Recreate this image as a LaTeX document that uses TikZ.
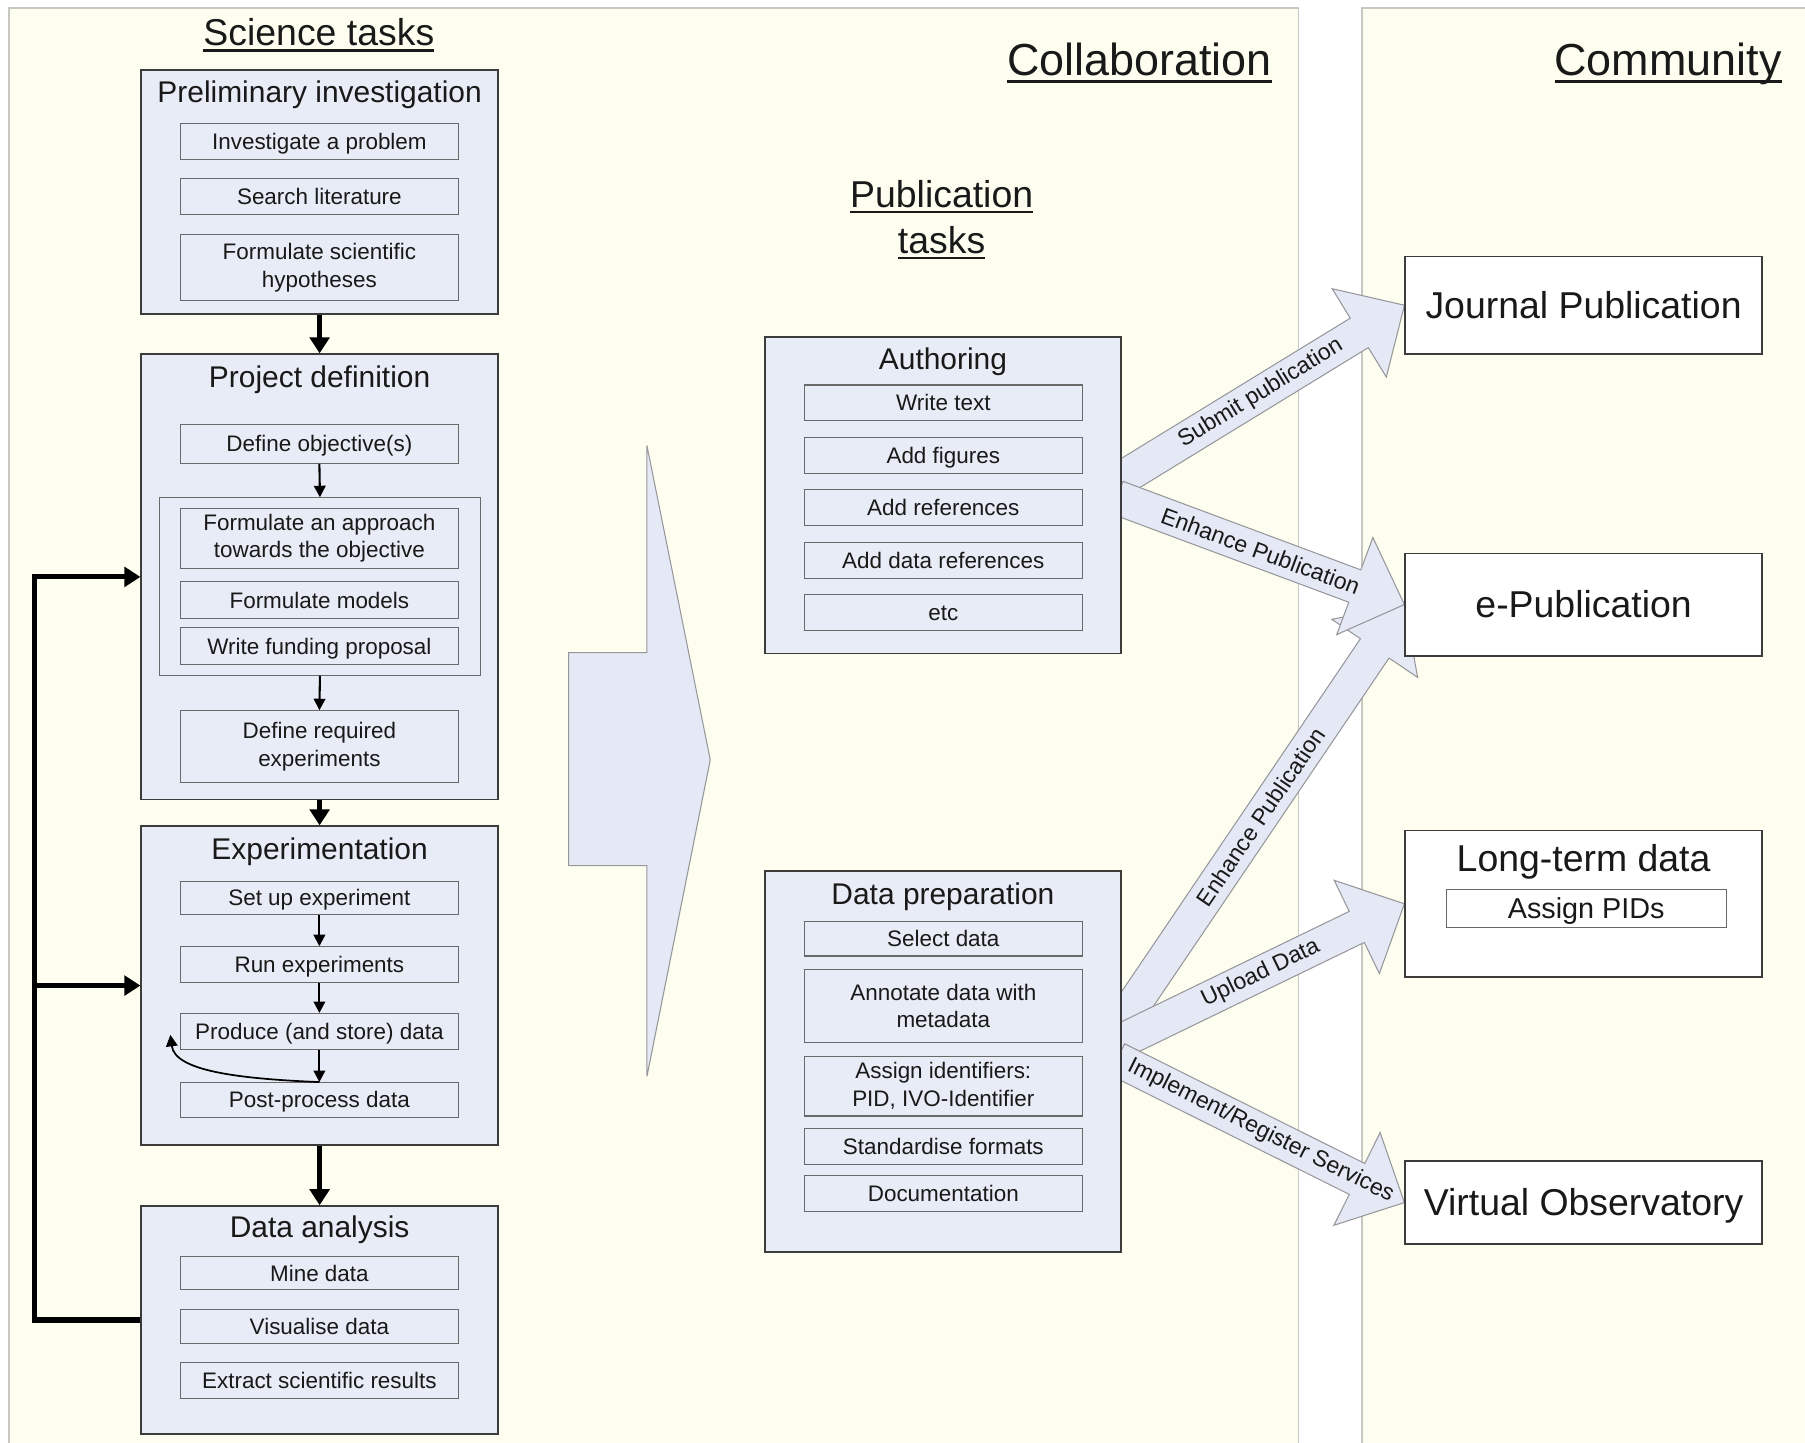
\documentclass[tikz,border=0pt]{standalone}
\usepackage{fontspec}
\setmainfont{Liberation Sans}
\usetikzlibrary{calc,arrows.meta}
\definecolor{panel}{RGB}{254,254,240}
\definecolor{paneledge}{RGB}{200,200,195}
\definecolor{boxfill}{RGB}{232,236,246}
\definecolor{boxedge}{RGB}{60,60,60}
\definecolor{inedge}{RGB}{105,105,105}
\definecolor{arrfill}{RGB}{228,233,245}
\definecolor{arredge}{RGB}{150,150,155}
\definecolor{txt}{RGB}{25,25,25}
\pgfdeclarelayer{back}\pgfdeclarelayer{arrows}\pgfsetlayers{back,arrows,main}
\newcommand\fs[2]{\fontsize{#1}{#2}\selectfont}
\newsavebox\ulbox
\newcommand\myul[1]{\sbox\ulbox{#1}\rlap{\rule[-0.16em]{\wd\ulbox}{0.065em}}\usebox\ulbox}
\newcommand\fatarrow[3]{%
 \begin{pgfonlayer}{arrows}
 \coordinate (fH) at ($(#2)!46pt!(#1)$);
 \draw[fat] ($(#1)!15pt!90:(#2)$) -- ($(fH)!15pt!90:(#2)$) -- ($(fH)!45pt!90:(#2)$) -- (#2)
   -- ($(fH)!45pt!-90:(#2)$) -- ($(fH)!15pt!-90:(#2)$) -- ($(#1)!15pt!-90:(#2)$) -- cycle;
 \path (#1) -- (#2) node[midway, sloped, lab] {#3};
 \end{pgfonlayer}}
\begin{document}
\begin{tikzpicture}[x=1pt,y=-1pt,
 outerbox/.style={draw=boxedge, fill=boxfill, line width=1.3pt, inner sep=0pt, anchor=north west},
 ib/.style={draw=inedge, fill=boxfill, line width=0.9pt, inner sep=0pt, anchor=north west, minimum width=242pt, font=\fs{19.5}{24}, text=txt, align=center},
 ib1/.style={ib, text height=14pt, text depth=0pt},
 btitle/.style={font=\fs{26}{30}, text=txt, inner sep=0pt, text height=18.6pt, text depth=0pt},
 comm/.style={draw=boxedge, fill=white, line width=1.3pt, inner sep=0pt, anchor=north west, minimum width=310pt, font=\fs{32.5}{38}, text=txt, text height=23.3pt, text depth=0pt},
 bigtitle/.style={text=txt, inner sep=0pt, text depth=0pt},
 tarr/.style={line width=4.5pt, draw=black, -{Triangle[length=14pt,width=17pt]}},
 narr/.style={line width=1.8pt, draw=black, -{Triangle[length=10pt,width=10pt]}},
 chev/.style={draw=arredge, fill=arrfill, line width=0.9pt, line join=miter},
 fat/.style={draw=arredge, fill=arrfill, line width=0.9pt, line join=miter},
 lab/.style={font=\fs{20}{22}, text=txt, inner sep=0pt},
 panelsty/.style={draw=paneledge, fill=panel, line width=1.5pt}]
\useasboundingbox (0,0) rectangle (1568,1253);
\clip (0,0) rectangle (1568,1253);
\begin{pgfonlayer}{back}
\fill[white] (0,0) rectangle (1568,1253);
\draw[panelsty] (8,7) rectangle (1128,1265);
\draw[panelsty] (1183,7) rectangle (1580,1265);
\end{pgfonlayer}

% titles
\node[bigtitle, font=\fs{32.5}{40}, text height=23.3pt] (tSci) at (277,28) {\myul{Science tasks}};
\node[bigtitle, font=\fs{39}{44}, text height=27.9pt] (tColl) at (990,52) {\myul{Collaboration}};
\node[bigtitle, font=\fs{39}{44}, text height=27.9pt] (tComm) at (1449,52) {\myul{Community}};
\node[align=center, font=\fs{32.5}{40}, text=txt, inner sep=0pt] (tPub) at (818,191) {\myul{Publication}\\\myul{tasks}};

% science column
\node[outerbox, minimum width=310pt, minimum height=212pt] (prelim) at (122,60) {};
\node[btitle] (prelimT) at ($(prelim.north)+(0,20)$) {Preliminary investigation};
\node[ib1, minimum height=31pt] (inv) at (156,107) {Investigate a problem};
\node[ib1, minimum height=31pt] (lit) at (156,155) {Search literature};
\node[ib, minimum height=58pt] (hyp) at (156,203) {Formulate scientific\\hypotheses};

\node[outerbox, minimum width=310pt, minimum height=387pt] (projdef) at (122,307) {};
\node[btitle] (projdefT) at ($(projdef.north)+(0,20)$) {Project definition};
\node[ib1, minimum height=34pt] (obj) at (156,368) {Define objective(s)};
\node[draw=inedge, fill=boxfill, line width=0.9pt, inner sep=0pt, anchor=north west, minimum width=279pt, minimum height=154pt] (grp) at (138,432) {};
\node[ib, minimum height=52pt] (appr) at (156,441) {Formulate an approach\\towards the objective};
\node[ib1, minimum height=32pt] (models) at (156,505) {Formulate models};
\node[ib1, minimum height=32pt] (fund) at (156,545) {Write funding proposal};
\node[ib, minimum height=62pt] (reqexp) at (156,617) {Define required\\experiments};

\node[outerbox, minimum width=310pt, minimum height=277pt] (exp) at (122,717) {};
\node[btitle] (expT) at ($(exp.north)+(0,20)$) {Experimentation};
\node[ib1, minimum height=29pt] (setup) at (156,765) {Set up experiment};
\node[ib1, minimum height=31pt] (run) at (156,822) {Run experiments};
\node[ib1, minimum height=31pt] (prod) at (156,880) {Produce (and store) data};
\node[ib1, minimum height=30pt] (post) at (156,940) {Post-process data};

\node[outerbox, minimum width=310pt, minimum height=198pt] (dana) at (122,1047) {};
\node[btitle] (danaT) at ($(dana.north)+(0,19)$) {Data analysis};
\node[ib1, minimum height=29pt] (mine) at (156,1091) {Mine data};
\node[ib1, minimum height=30pt] (vis) at (156,1137) {Visualise data};
\node[ib1, minimum height=31pt] (extract) at (156,1183) {Extract scientific results};

% science arrows
\draw[tarr] (prelim.south) -- (projdef.north);
\draw[tarr] (projdef.south) -- (exp.north);
\draw[tarr] (exp.south) -- (dana.north);
\draw[narr] (obj.south) -- (grp.north);
\draw[narr] (grp.south) -- (reqexp.north);
\draw[narr] (setup.south) -- (run.north);
\draw[narr] (run.south) -- (prod.north);
\draw[narr] (prod.south) -- (post.north);
\coordinate (pback) at ($(prod.west)+(-8,3)$);
\draw[narr, line width=1.5pt] (post.north) .. controls (205,937) and (152,930) .. (pback);
\coordinate (lc) at (30,0);
\draw[tarr] (dana.west) -| (lc |- projdef.west) -- (projdef.west);
\draw[tarr] (lc |- exp.west) -- (exp.west);

% big chevron
\draw[chev] (494,567) -- (562,567) -- (562,387) -- (617,660) -- (562,935) -- (562,752) -- (494,752) -- cycle;

% publication column
\node[outerbox, minimum width=309pt, minimum height=275pt] (auth) at (664,292) {};
\node[btitle] (authT) at ($(auth.north)+(0,20)$) {Authoring};
\node[ib1, minimum height=31pt] (wt) at (698,334) {Write text};
\node[ib1, minimum height=31pt] (fig) at (698,380) {Add figures};
\node[ib1, minimum height=31pt] (refs) at (698,425) {Add references};
\node[ib1, minimum height=31pt] (dref) at (698,471) {Add data references};
\node[ib1, minimum height=31pt] (etc) at (698,516) {etc};

\node[outerbox, minimum width=309pt, minimum height=331pt] (dprep) at (664,756) {};
\node[btitle] (dprepT) at ($(dprep.north)+(0,20)$) {Data preparation};
\node[ib1, minimum height=30pt] (sel) at (698,800) {Select data};
\node[ib, minimum height=63pt] (ann) at (698,842) {Annotate data with\\metadata};
\node[ib, minimum height=52pt] (ids) at (698,917) {Assign identifiers:\\PID, IVO-Identifier};
\node[ib1, minimum height=31pt] (std) at (698,980) {Standardise formats};
\node[ib1, minimum height=31pt] (doc) at (698,1021) {Documentation};

% community
\node[comm, minimum height=85pt] (jp) at (1220,222) {Journal Publication};
\node[comm, minimum height=89pt] (ep) at (1220,480) {e-Publication};
\node[comm, minimum height=127pt] (lt) at (1220,721) {};
\node[btitle, font=\fs{32.5}{38}, text height=23.3pt] (ltT) at ($(lt.north)+(0,24)$) {Long-term data};
\node[draw=inedge, fill=white, line width=0.9pt, inner sep=0pt, anchor=north west, minimum width=243pt, minimum height=33pt, font=\fs{25}{28}, text=txt, text height=17.9pt, text depth=0pt] (pids) at (1256,772) {Assign PIDs};
\node[comm, minimum height=72pt] (vo) at (1220,1008) {Virtual Observatory};

% fat arrows
\coordinate (sSub) at ($(auth.east)+(-4,-12)$);
\coordinate (sEn1) at ($(auth.east)+(-4,2)$);
\coordinate (sEn2) at ($(dprep.east)+(-4,-28)$);
\coordinate (sUp) at ($(dprep.east)+(-4,-16)$);
\coordinate (sImp) at ($(dprep.east)+(-4,-2)$);
\fatarrow{sSub}{jp.west}{Submit publication}
\fatarrow{sEn2}{ep.west}{Enhance Publication}
\fatarrow{sUp}{lt.west}{Upload Data}
\fatarrow{sImp}{vo.west}{Implement/Register Services}
\fatarrow{sEn1}{ep.west}{Enhance Publication}
\end{tikzpicture}
\end{document}
